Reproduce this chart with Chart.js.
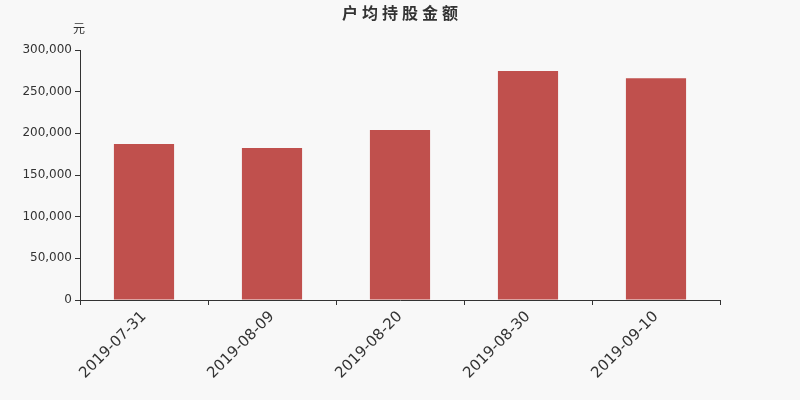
<!DOCTYPE html>
<html><head><meta charset="utf-8">
<script src="https://cdn.jsdelivr.net/npm/chart.js@4"></script>
<style>html,body{margin:0;padding:0;background:#f8f8f8;}#wrap{width:800px;height:400px;}</style>
</head><body><div id="wrap"><canvas id="c" width="800" height="400"></canvas></div>
<script>
const categories = ['2019-07-31','2019-08-09','2019-08-20','2019-08-30','2019-09-10'];
const values = [187200, 182400, 204000, 274700, 266000];
const yTicks = [0, 50000, 100000, 150000, 200000, 250000, 300000];
const titleText = '户均持股金额';
const unitText = '元';

const textPlugin = {
  id: 'texts',
  afterDraw(chart) {
    const ctx = chart.ctx, y = chart.scales.y;
    ctx.save();
    ctx.font = '12px "Noto Sans CJK SC"';
    ctx.fillStyle = '#333';
    ctx.textAlign = 'center';
    ctx.textBaseline = 'middle';
    ctx.fillText(unitText, y.right - 1, y.top - 22);
    ctx.font = 'bold 16px "Noto Sans CJK SC"';
    ctx.letterSpacing = '4px';
    ctx.textAlign = 'left';
    const w = ctx.measureText(titleText).width - 4;
    ctx.fillText(titleText, chart.width / 2 - w / 2, 13);
    ctx.restore();
  }
};
const bgPlugin = {
  id: 'bg',
  beforeDraw(chart) {
    const ctx = chart.ctx;
    ctx.save(); ctx.fillStyle = '#f8f8f8'; ctx.fillRect(0,0,chart.width,chart.height); ctx.restore();
  }
};

new Chart(document.getElementById('c'), {
  type: 'bar',
  data: { labels: categories, datasets: [{ data: values, backgroundColor: '#c0504d', categoryPercentage: 0.47, barPercentage: 1 }] },
  options: {
    responsive: false, animation: false,
    layout: { padding: { top: 50, right: 80, left: 0, bottom: 0 } },
    plugins: {
      legend: { display: false }, tooltip: { enabled: false }, title: { display: false }
    },
    scales: {
      x: {
        grid: { display: true, drawOnChartArea: false, drawTicks: true, tickLength: 5, color: '#333', offset: true },
        border: { display: true, color: '#333', width: 1 },
        ticks: { color: '#333', minRotation: 45, maxRotation: 45, font: { family: '"DejaVu Sans"', size: 15 }, padding: 3 },
        afterFit(s) { s.height = 100; }
      },
      y: {
        min: 0, max: 300000,
        afterBuildTicks(s) { s.ticks = yTicks.map(v => ({ value: v })); },
        grid: { display: true, drawOnChartArea: false, drawTicks: true, tickLength: 5, color: '#333' },
        border: { display: true, color: '#333', width: 1 },
        ticks: { color: '#333', font: { family: '"DejaVu Sans"', size: 12 }, padding: 3,
          callback: v => v.toLocaleString('en-US') },
        afterFit(s) { s.width = 80; }
      }
    }
  },
  plugins: [bgPlugin, textPlugin]
});
</script></body></html>
